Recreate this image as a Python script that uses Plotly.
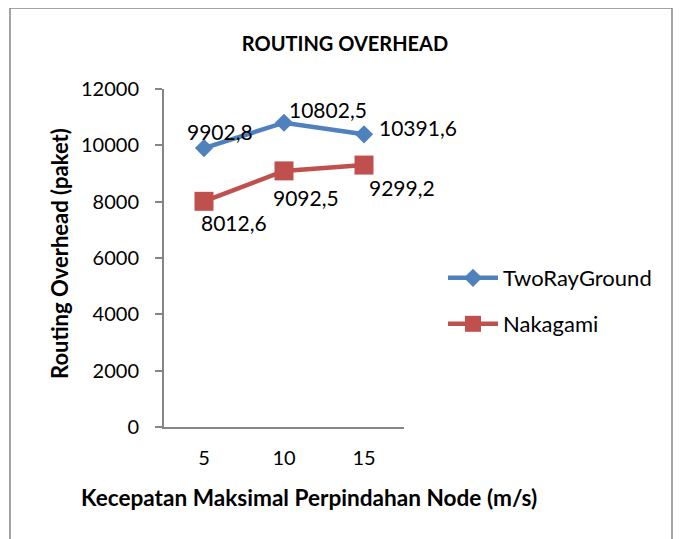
import plotly.graph_objects as go

# ---- data ----
categories = ["5", "10", "15"]
tworay_values = [9902.8, 10802.5, 10391.6]
nakagami_values = [8012.6, 9092.5, 9299.2]
series_names = ["TwoRayGround", "Nakagami"]
y_ticks = [0, 2000, 4000, 6000, 8000, 10000, 12000]
chart_title = "ROUTING OVERHEAD"
x_title = "Kecepatan Maksimal Perpindahan Node (m/s)"
y_title = "Routing Overhead (paket)"

# ---- style ----
FONT = "Lato, Carlito, sans-serif"
BLUE = "#4F81BD"
RED = "#C0504D"
AXIS = "#868686"
O = 8                      # page body margin
W, H = 682 - O, 539 - O
L, R, T, B = 164, 404, 89, 427   # plot area in page px


def px(xp):
    return (xp - L) / (R - L)


def py(yp):
    return (B - yp) / (B - T)


fig = go.Figure()
fig.add_trace(go.Scatter(
    x=categories, y=tworay_values, name=series_names[0], mode="lines+markers",
    line=dict(color=BLUE, width=4.5), marker=dict(symbol="diamond", size=14, color=BLUE),
    legend="legend"))
fig.add_trace(go.Scatter(
    x=categories, y=nakagami_values, name=series_names[1], mode="lines+markers",
    line=dict(color=RED, width=4.5), marker=dict(symbol="square", size=19, color=RED),
    legend="legend2"))


def fmt(v):
    return f"{v:.1f}".replace(".", ",")


tw_shift = [(16, 17), (44, 13), (54, 7)]
nk_shift = [(30, -21), (22, -27), (38, -22)]
annotations = []
for i, (v, (dx, dy)) in enumerate(zip(tworay_values, tw_shift)):
    annotations.append(dict(x=i, y=v, text=fmt(v), showarrow=False, xshift=dx, yshift=dy,
                            xanchor="center", yanchor="middle",
                            font=dict(family=FONT, size=21, color="black")))
for i, (v, (dx, dy)) in enumerate(zip(nakagami_values, nk_shift)):
    annotations.append(dict(x=i, y=v, text=fmt(v), showarrow=False, xshift=dx, yshift=dy,
                            xanchor="center", yanchor="middle",
                            font=dict(family=FONT, size=21, color="black")))

annotations.append(dict(text=f"<b>{x_title}</b>", xref="paper", yref="paper",
                        x=px(309), y=py(497), showarrow=False, xanchor="center", yanchor="middle",
                        font=dict(family=FONT, size=22.6, color="black")))
annotations.append(dict(text=f"<b>{y_title}</b>", xref="paper", yref="paper",
                        x=px(59), y=py(254), showarrow=False, textangle=-90,
                        xanchor="center", yanchor="middle",
                        font=dict(family=FONT, size=22, color="black")))

fig.update_layout(
    width=W, height=H,
    margin=dict(l=L - O, r=W - (R - O), t=T - O, b=H - (B - O), autoexpand=False),
    paper_bgcolor="white", plot_bgcolor="white",
    font=dict(family=FONT, color="black"),
    title=dict(text=f"<b>{chart_title}</b>", x=(345 - O) / W, y=1 - (44 - O) / H,
               xref="container", yref="container", xanchor="center", yanchor="middle",
               font=dict(family=FONT, size=20, color="black")),
    xaxis=dict(type="category", range=[-0.5, 2.5], showline=True, linecolor=AXIS, linewidth=2,
               ticks="", showgrid=False, zeroline=False, ticklabelstandoff=12,
               tickfont=dict(family=FONT, size=20, color="black")),
    yaxis=dict(range=[0, 12000], tickvals=y_ticks, tickformat="d", showline=True, linecolor=AXIS,
               linewidth=2, ticks="outside", ticklen=7, tickcolor=AXIS, tickwidth=2, showgrid=False,
               zeroline=False, ticklabelstandoff=12,
               tickfont=dict(family=FONT, size=20, color="black")),
    legend=dict(x=px(443), y=py(278), xanchor="left", yanchor="middle", bgcolor="rgba(0,0,0,0)",
                itemwidth=50, font=dict(family=FONT, size=22, color="black")),
    legend2=dict(x=px(443), y=py(324), xanchor="left", yanchor="middle", bgcolor="rgba(0,0,0,0)",
                 itemwidth=50, font=dict(family=FONT, size=22, color="black")),
    annotations=annotations,
    shapes=[dict(type="rect", xref="paper", yref="paper", x0=px(10), x1=px(672), y0=py(560), y1=py(8),
                 line=dict(color=AXIS, width=1.5), fillcolor="rgba(0,0,0,0)", layer="below")],
    showlegend=True,
)

fig.write_html("out.html")
